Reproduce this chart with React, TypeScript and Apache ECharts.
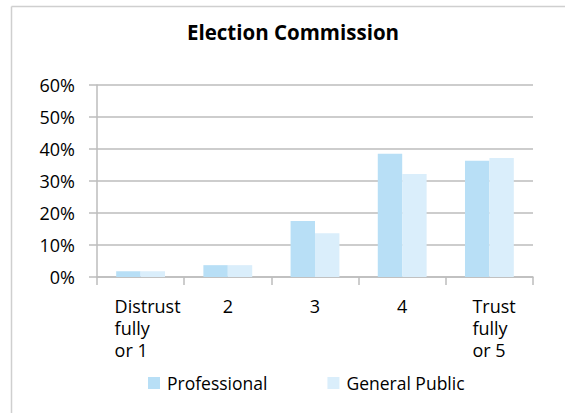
import React, { useEffect, useRef } from "react";
import * as echarts from "echarts";

const categories = ["Distrust\nfully\nor 1", "2", "3", "4", "Trust\nfully\nor 5"];
const seriesNames = ["Professional", "General Public"];
const professional = [1.8, 3.7, 17.5, 38.5, 36.3];
const generalPublic = [1.8, 3.7, 13.7, 32.2, 37.2];
const yTicks = [0, 10, 20, 30, 40, 50, 60];

const FONT = "'Open Sans', 'Noto Sans', sans-serif";

export default function App() {
  const ref = useRef<HTMLDivElement>(null);
  useEffect(() => {
    if (!ref.current) return;
    const chart = echarts.init(ref.current, null, { renderer: "svg" });
    chart.setOption({
      animation: false,
      backgroundColor: "#ffffff",
      title: {
        text: "Election Commission",
        left: 288,
        top: 16,
        textAlign: "center",
        textStyle: { fontFamily: FONT, fontSize: 20.5, fontWeight: "bold", color: "#000" },
      },
      graphic: [
        { type: "line", shape: { x1: 11.5, y1: 6.5, x2: 565, y2: 6.5 }, style: { stroke: "#cfcfcf", lineWidth: 1.5 } },
        { type: "line", shape: { x1: 11.5, y1: 6.5, x2: 11.5, y2: 413 }, style: { stroke: "#cfcfcf", lineWidth: 1.5 } },
      ],
      legend: {
        data: seriesNames,
        left: 143,
        top: 369,
        itemWidth: 12,
        itemHeight: 12,
        itemGap: 60,
        icon: "rect",
        textStyle: { fontFamily: FONT, fontSize: 17.5, color: "#000", padding: [0, 0, 0, 2] },
      },
      grid: { left: 97, right: 32, top: 85, bottom: 136, containLabel: false },
      xAxis: {
        type: "category",
        data: categories,
        axisLine: { lineStyle: { color: "#bdbdbd", width: 1.5 } },
        axisTick: { show: true, length: 8, lineStyle: { color: "#bdbdbd", width: 1.5 } },
        axisLabel: {
          margin: 18,
          fontFamily: FONT,
          fontSize: 18,
          color: "#000",
          lineHeight: 22,
          interval: 0,
          formatter: (v: string, i: number) => {
            if (v.indexOf("\n") < 0) return v;
            const st = i === 0 ? "d" : "t";
            return v
              .split("\n")
              .map((l) => `{${st}|${l}}`)
              .join("\n");
          },
          rich: {
            d: { width: 52, align: "left", fontFamily: FONT, fontSize: 18, lineHeight: 22, color: "#000" },
            t: { width: 34, align: "left", fontFamily: FONT, fontSize: 18, lineHeight: 22, color: "#000" },
          },
        },
      },
      yAxis: {
        type: "value",
        min: 0,
        max: 60,
        interval: 10,
        axisLine: { show: true, lineStyle: { color: "#bdbdbd", width: 1.5 } },
        axisTick: { show: true, length: 8, lineStyle: { color: "#bdbdbd", width: 1.5 } },
        splitLine: { lineStyle: { color: "#bdbdbd", width: 1.5 } },
        axisLabel: {
          margin: 22,
          fontFamily: FONT,
          fontSize: 18,
          color: "#000",
          formatter: (v: number) => (yTicks.includes(v) ? `${v}%` : ""),
        },
      },
      series: [
        {
          name: seriesNames[0],
          type: "bar",
          data: professional,
          barGap: "0%",
          barCategoryGap: "44%",
          itemStyle: { color: "#b8dff6" },
        },
        {
          name: seriesNames[1],
          type: "bar",
          data: generalPublic,
          barGap: "0%",
          barCategoryGap: "44%",
          itemStyle: { color: "#daeefb" },
        },
      ],
    });
    return () => chart.dispose();
  }, []);
  return <div ref={ref} style={{ position: "fixed", left: 0, top: 0, width: 565, height: 413 }} />;
}
